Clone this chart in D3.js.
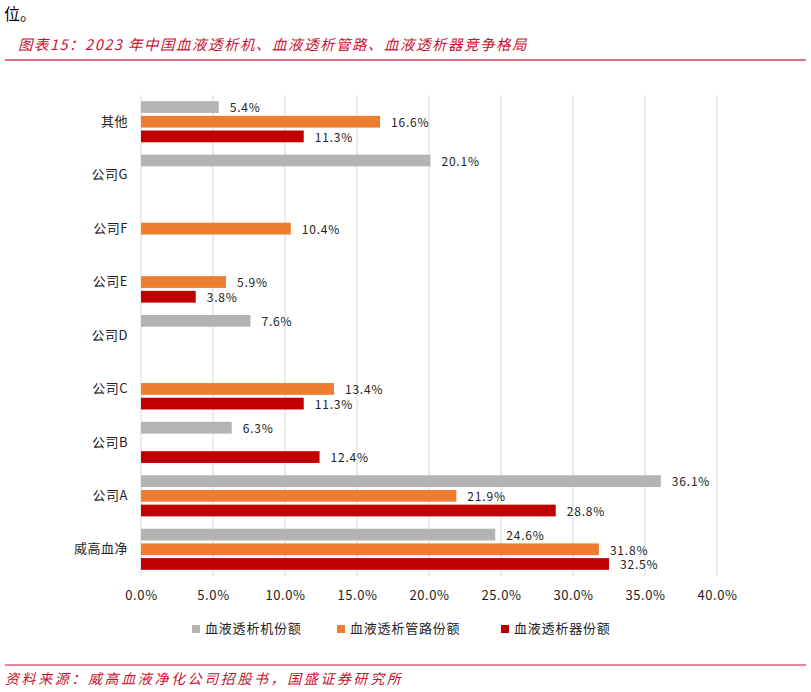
<!DOCTYPE html>
<html>
<head>
<meta charset="utf-8">
<script src="https://cdn.jsdelivr.net/npm/d3@7"></script>
<style>
  html, body { margin: 0; padding: 0; background: #fff; }
  svg { display: block; }
  text { font-family: "Noto Sans CJK SC", "DejaVu Sans", sans-serif; }
</style>
</head>
<body>
<svg id="chart" width="811" height="692"></svg>
<script>
const categories = ["其他", "公司G", "公司F", "公司E", "公司D", "公司C", "公司B", "公司A", "威高血净"];
const seriesNames = ["血液透析机份额", "血液透析管路份额", "血液透析器份额"];
const machineShare = [5.4, 20.1, null, null, 7.6, null, 6.3, 36.1, 24.6];
const tubingShare  = [16.6, null, 10.4, 5.9, null, 13.4, null, 21.9, 31.8];
const dialyzerShare = [11.3, null, null, 3.8, null, 11.3, 12.4, 28.8, 32.5];
const xTicks = [0, 5, 10, 15, 20, 25, 30, 35, 40];
const titleText = "图表15：2023 年中国血液透析机、血液透析管路、血液透析器竞争格局";
const sourceText = "资料来源：威高血液净化公司招股书，国盛证券研究所";
const topText = "位。";

const seriesValues = [machineShare, tubingShare, dialyzerShare];
const colors = ["#b3b3b3", "#ed7d31", "#c00000"];

const svg = d3.select("#chart");

// header
svg.append("text").attr("x", 4).attr("y", 20).attr("font-size", 16).attr("fill", "#000").text(topText);
svg.append("text").attr("x", 18).attr("y", 50).attr("font-size", 14.5).attr("font-style", "italic")
  .attr("letter-spacing", 1.5).attr("fill", "#c8102e").text(titleText);
svg.append("line").attr("x1", 5).attr("x2", 806).attr("y1", 60).attr("y2", 60)
  .attr("stroke", "#d9737b").attr("stroke-width", 2);

// footer
svg.append("line").attr("x1", 5).attr("x2", 806).attr("y1", 665).attr("y2", 665)
  .attr("stroke", "#c8102e").attr("stroke-width", 1);
svg.append("text").attr("x", 5).attr("y", 684).attr("font-size", 14).attr("font-style", "italic")
  .attr("letter-spacing", 2.6).attr("fill", "#c8102e").text(sourceText);

// scales
const x = d3.scaleLinear().domain([0, 40]).range([141, 717]);
const y = d3.scaleBand().domain(categories).range([95, 576]).paddingInner(0.176).paddingOuter(0.088);
const ySub = d3.scaleBand().domain(seriesNames).range([0, y.bandwidth()]).paddingInner(0.2).paddingOuter(0.1);

// gridlines
svg.append("g").selectAll("line").data(xTicks).join("line")
  .attr("x1", d => x(d)).attr("x2", d => x(d))
  .attr("y1", 95).attr("y2", 576)
  .attr("stroke", "#d9d9d9").attr("stroke-width", 1);

// x axis labels
const xAxis = d3.axisBottom(x).tickValues(xTicks).tickSize(0).tickPadding(0)
  .tickFormat(d => d3.format(".1f")(d) + "%");
const gx = svg.append("g").attr("transform", "translate(0,591)").call(xAxis);
gx.select(".domain").remove();
gx.selectAll("text").attr("font-size", 13).attr("fill", "#222").attr("letter-spacing", 0.6)
  .attr("font-family", "'Noto Sans CJK SC', sans-serif");

// y axis labels
const yAxis = d3.axisLeft(y).tickSize(0).tickPadding(0);
const gy = svg.append("g").attr("transform", "translate(128,0)").call(yAxis);
gy.select(".domain").remove();
gy.selectAll("text").attr("font-size", 13).attr("fill", "#222").attr("letter-spacing", 0.5)
  .attr("font-family", "'Noto Sans CJK SC', sans-serif");

// bars
const rows = [];
categories.forEach((c, i) => {
  seriesNames.forEach((s, j) => {
    const v = seriesValues[j][i];
    if (v !== null && v !== undefined) rows.push({ cat: c, series: s, value: v, color: colors[j] });
  });
});

const barG = svg.append("g");
barG.selectAll("rect").data(rows).join("rect")
  .attr("x", x(0))
  .attr("y", d => y(d.cat) + ySub(d.series))
  .attr("width", d => x(d.value) - x(0))
  .attr("height", ySub.bandwidth())
  .attr("fill", d => d.color);

barG.selectAll("text").data(rows).join("text")
  .attr("x", d => x(d.value) + 11)
  .attr("y", d => y(d.cat) + ySub(d.series) + ySub.bandwidth() / 2 + 2)
  .attr("dominant-baseline", "middle")
  .attr("font-size", 12).attr("letter-spacing", 0.8).attr("fill", "#222")
  .text(d => d3.format(".1f")(d.value) + "%");

// legend
const legendX = [192, 337, 501];
const lg = svg.append("g");
seriesNames.forEach((s, j) => {
  lg.append("rect").attr("x", legendX[j]).attr("y", 625).attr("width", 8).attr("height", 8).attr("fill", colors[j]);
  lg.append("text").attr("x", legendX[j] + 13).attr("y", 629).attr("dominant-baseline", "middle")
    .attr("font-size", 13).attr("letter-spacing", 0.8).attr("fill", "#222").text(s);
});
</script>
</body>
</html>
